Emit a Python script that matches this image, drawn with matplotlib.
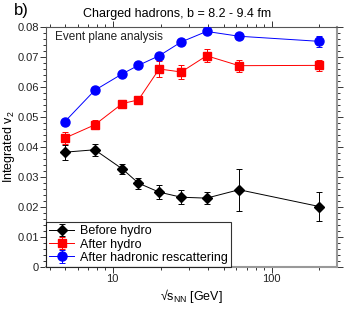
import matplotlib
matplotlib.use("Agg")
import matplotlib.pyplot as plt
from matplotlib.ticker import LogLocator, MultipleLocator, NullFormatter, FixedLocator

plt.rcParams['font.family'] = ['Liberation Sans', 'DejaVu Sans']
plt.rcParams['mathtext.fontset'] = 'custom'
plt.rcParams['mathtext.rm'] = 'Liberation Sans'
plt.rcParams['mathtext.it'] = 'Liberation Sans'

energy = [5, 7.7, 11.5, 14.5, 19.6, 27, 39, 62.4, 200]
before = [0.0382, 0.0390, 0.0326, 0.0279, 0.0249, 0.0232, 0.0229, 0.0257, 0.0201]
before_err = [0.0025, 0.0020, 0.0017, 0.0018, 0.0024, 0.0024, 0.0020, 0.0070, 0.0047]
after = [0.0429, 0.0473, 0.0544, 0.0556, 0.0659, 0.0649, 0.0703, 0.0670, 0.0671]
after_err = [0.0019, 0.0015, 0.0005, 0.0005, 0.0026, 0.0022, 0.0022, 0.0020, 0.0018]
resc = [0.0484, 0.0588, 0.0643, 0.0671, 0.0703, 0.0749, 0.0784, 0.0768, 0.0751]
resc_err = [0.0003, 0.0003, 0.0003, 0.0003, 0.0003, 0.0003, 0.0003, 0.0003, 0.0018]
labels = ["Before hydro", "After hydro", "After hadronic rescattering"]

fig = plt.figure(figsize=(3.54, 3.17), dpi=100)
ax = fig.add_axes([0.130, 0.158, 0.821, 0.758])

ax.errorbar(energy, before, yerr=before_err, color='black', marker='D', markersize=5.5,
            lw=0.7, elinewidth=0.7, capsize=2, capthick=0.7, label=labels[0], zorder=3)
ax.errorbar(energy, after, yerr=after_err, color='#ff0000', marker='s', markersize=6,
            lw=0.7, elinewidth=0.7, capsize=2, capthick=0.7, label=labels[1], zorder=3)
ax.errorbar(energy, resc, yerr=resc_err, color='#0000ff', marker='o', markersize=6.5,
            lw=0.7, elinewidth=0.7, capsize=2, capthick=0.7, label=labels[2], zorder=3)

ax.set_xscale('log')
ax.set_xlim(3.8, 257)
ax.set_ylim(0, 0.08)
ax.xaxis.set_major_locator(FixedLocator([10, 100]))
ax.set_xticklabels(['10', '100'])
ax.xaxis.set_minor_locator(LogLocator(base=10, subs=range(2, 10)))
ax.xaxis.set_minor_formatter(NullFormatter())
ax.yaxis.set_minor_locator(MultipleLocator(0.002))
ax.set_yticks([0, 0.01, 0.02, 0.03, 0.04, 0.05, 0.06, 0.07, 0.08])
ax.set_yticklabels(['0', '0.01', '0.02', '0.03', '0.04', '0.05', '0.06', '0.07', '0.08'])

ax.tick_params(which='both', direction='out', top=True, right=True, labelsize=8,
               colors='#333333', labelcolor='#222222', width=0.7, pad=0.8)
ax.tick_params(which='major', length=4.3)
ax.tick_params(which='minor', length=2.2)
for s in ax.spines.values():
    s.set_color('#555555')
    s.set_linewidth(0.8)
ax.spines['right'].set_color('#999999')
ax.spines['right'].set_linewidth(1.5)
ax.spines['bottom'].set_color('#999999')
ax.spines['bottom'].set_linewidth(1.5)

ax.set_ylabel(r'Integrated v$_2$', fontsize=9)
ax.yaxis.set_label_coords(-0.10, 0.5)
ax.set_xlabel('√s$_{\\mathregular{NN}}$ [GeV]', fontsize=9, labelpad=2)
ax.text(0.03, 0.98, 'Event plane analysis', transform=ax.transAxes, fontsize=8.5,
        va='top', ha='left', color='#222222')
fig.text(0.04, 0.99, 'b)', fontsize=12, va='top', ha='left')
fig.text(0.50, 0.975, 'Charged hadrons, b = 8.2 - 9.4 fm', fontsize=9, va='top', ha='center')

leg = ax.legend(loc='lower left', fontsize=9, frameon=True, fancybox=False,
                borderaxespad=0, handlelength=2.0, handletextpad=0.5,
                borderpad=0.25, labelspacing=0.1)
leg.get_frame().set_edgecolor('black')
leg.get_frame().set_linewidth(0.8)

fig.savefig('out.png', dpi=100)
